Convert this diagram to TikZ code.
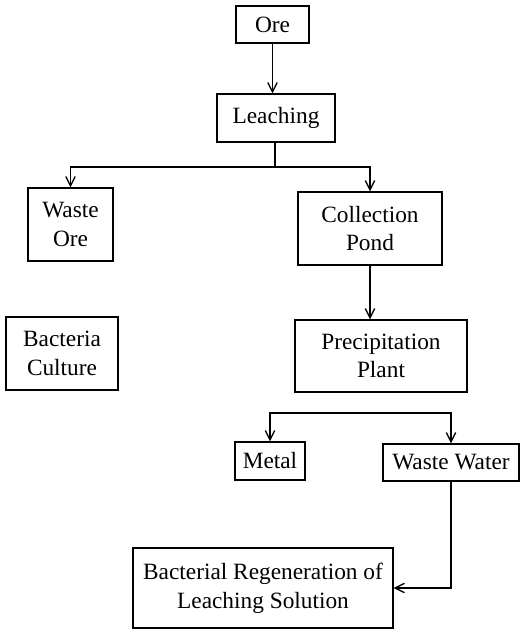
\documentclass[tikz,border=0pt]{standalone}
\usepackage{fontspec}
\setmainfont{Liberation Serif}
\usetikzlibrary{positioning, arrows.meta}

\begin{document}
\begin{tikzpicture}[
      x=0.75pt, y=-0.75pt,
      every node/.style = {font=\fontsize{17.5}{21.5}\selectfont},
      stage/.style = {draw, line width=1pt, align=center, inner sep=0pt},
      arr/.style = {-{Straight Barb[length=7pt,width=7pt]}, line width=1pt},
      link/.style = {line width=1pt}
    ]
    \useasboundingbox (0,0) rectangle (521,633);
    \node[stage, minimum width=54.75pt, minimum height=27.75pt] (ore)    at (272.5,24.5) {Ore};
    \node[stage, minimum width=88.5pt,  minimum height=36pt]    (leach)  at (276,118)    {Leaching};
    \node[stage, minimum width=63.75pt, minimum height=54.75pt] (wore)   at (70.5,224.5) {Waste\\Ore};
    \node[stage, minimum width=108pt,   minimum height=54.75pt] (pond)   at (370,228.5)  {Collection\\Pond};
    \node[stage, minimum width=84pt,    minimum height=54.75pt] (bact)   at (62,353.5)   {Bacteria\\Culture};
    \node[stage, minimum width=129pt,   minimum height=54pt]    (precip) at (381,356)    {Precipitation\\Plant};
    \node[stage, minimum width=52.5pt,  minimum height=28.5pt]  (metal)  at (270,461)    {Metal};
    \node[stage, minimum width=102pt,   minimum height=27.75pt] (wwater) at (451,462.5)  {Waste Water};
    \node[stage, minimum width=195pt,   minimum height=60pt]    (regen)  at (263,588)    {Bacterial Regeneration of\\Leaching Solution};
    \coordinate (bar1) at (275,167);
    \coordinate (bar2) at (360,413);
    \draw[arr]  (ore.south) -- (ore.south |- leach.north);
    \draw[link] (leach.south -| bar1) -- (bar1);
    \draw[arr]  (bar1) -| (wore.north);
    \draw[arr]  (bar1) -| (pond.north);
    \draw[arr]  (pond.south) -- (pond.south |- precip.north);
    \draw[arr]  (bar2) -| (metal.north);
    \draw[arr]  (bar2) -| (wwater.north);
    \draw[arr]  (wwater.south) |- (regen.east);
  \end{tikzpicture}
\end{document}
